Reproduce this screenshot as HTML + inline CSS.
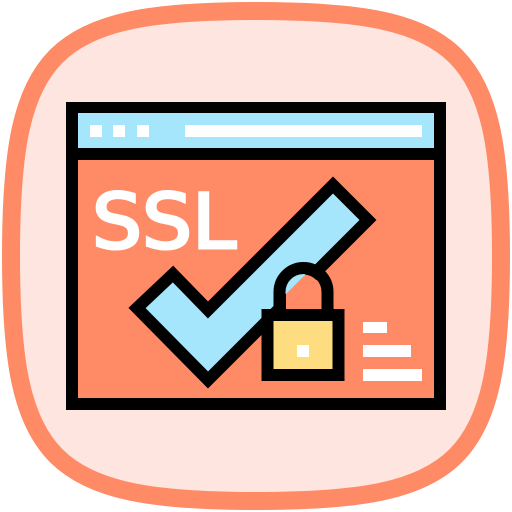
<!DOCTYPE html>
<html><head><style>html,body{margin:0;padding:0;background:#fff}svg{display:block}</style></head>
<body>
<svg width="512" height="512" viewBox="0 0 512 512" xmlns="http://www.w3.org/2000/svg">
<path d="M256,11 C462,11 501,50 501,256 C501,462 462,501 256,501 C50,501 11,462 11,256 C11,50 50,11 256,11Z" fill="#fee5df" stroke="#ff8a66" stroke-width="18"/>
<rect x="72" y="108" width="368" height="296" fill="#ff8a66" stroke="#000" stroke-width="12"/>
<rect x="78" y="113" width="356" height="36" fill="#a6e6fd"/>
<rect x="72" y="148" width="368" height="12" fill="#000"/>
<rect x="90" y="125" width="12" height="12" fill="#fff"/>
<rect x="113" y="125" width="12" height="12" fill="#fff"/>
<rect x="137" y="125" width="12" height="12" fill="#fff"/>
<rect x="185" y="125" width="237" height="12" fill="#fff"/>
<text x="92" y="248" font-family="DejaVu Sans, sans-serif" font-weight="normal" font-size="76" fill="#fff" stroke="#fff" stroke-width="3" textLength="144" lengthAdjust="spacingAndGlyphs">SSL</text>
<polygon points="137,308 173,274 208,310 333,185 368,220 208,380" fill="#a6e6fd" stroke="#000" stroke-width="12" stroke-linejoin="miter"/>
<clipPath id="c"><path d="M286,309 V292 A17.5,17.5 0 0 1 321,292 V309 Z"/></clipPath>
<g clip-path="url(#c)">
<rect x="280" y="260" width="50" height="60" fill="#ff8a66"/>
<polygon points="146,309 173,283 208,318 333,193 360,220 208,372" fill="#a6e6fd"/>
</g>
<path d="M279.5,309 V292 A23.5,23.5 0 0 1 327.5,292 V309" fill="none" stroke="#000" stroke-width="12"/>
<rect x="267.5" y="315" width="71" height="60" fill="#fedd80" stroke="#000" stroke-width="12"/>
<rect x="297" y="345" width="12" height="12" fill="#fff"/>
<rect x="363" y="322" width="24" height="11" fill="#fff"/>
<rect x="363" y="345" width="48" height="12" fill="#fff"/>
<rect x="363" y="369" width="59" height="12" fill="#fff"/>
</svg>
</body></html>
